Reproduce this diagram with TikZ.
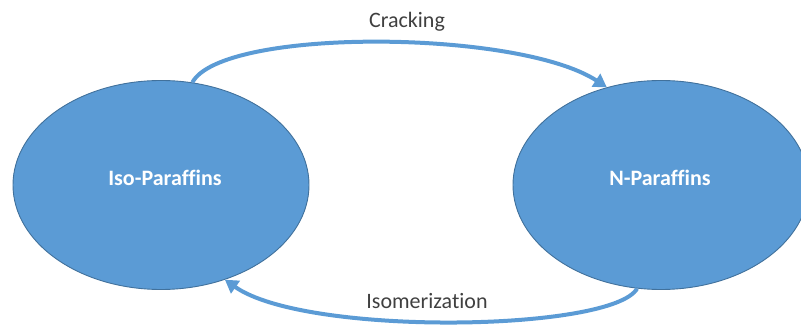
\documentclass[tikz,border=0pt]{standalone}
\usepackage{fontspec}
\setmainfont{Carlito}[Ligatures=NoCommon]
\usetikzlibrary{shapes.geometric,arrows.meta,calc}
\definecolor{ofblue}{HTML}{5B9BD5}
\definecolor{ofedge}{HTML}{41719C}
\definecolor{labgray}{HTML}{404040}
\tikzset{
  blob/.style={ellipse, fill=ofblue, draw=ofedge, line width=0.9pt, minimum width=296pt, minimum height=209pt, inner sep=0pt},
  blobtext/.style={text=white, font=\fontsize{22}{26}\selectfont\bfseries, inner sep=0pt},
  flow/.style={draw=ofblue, line width=4pt, -{Triangle[length=13pt,width=15pt]}},
  lab/.style={text=labgray, font=\fontsize{22}{26}\selectfont, inner sep=0pt}
}
\begin{document}
\begin{tikzpicture}[x=1pt,y=1pt]
\useasboundingbox (0,0) rectangle (801,-328);
\clip (0,0) rectangle (801,-328);
\node[blob] (iso) at (161,-185) {};
\node[blob] (np) at (661,-185) {};
\node[blobtext] (isot) at (165,-178) {Iso-Paraffins};
\node[blobtext] (npt) at (660,-178) {N-Paraffins};
\coordinate (a1) at (iso.73);
\coordinate (a2) at (np.119);
\coordinate (b1) at (np.257);
\coordinate (b2) at (iso.304);
\draw[flow] (a1) .. controls ($(a1)+(30,55)$) and ($(a2)+(-89,58)$) .. (a2);
\draw[flow] (b1) .. controls ($(b1)+(-25,-43)$) and ($(b2)+(81,-57)$) .. (b2);
\node[lab] (crack) at (407,-22) {Cracking};
\node[lab] (isom) at (427,-301) {Isomerization};
\end{tikzpicture}
\end{document}
